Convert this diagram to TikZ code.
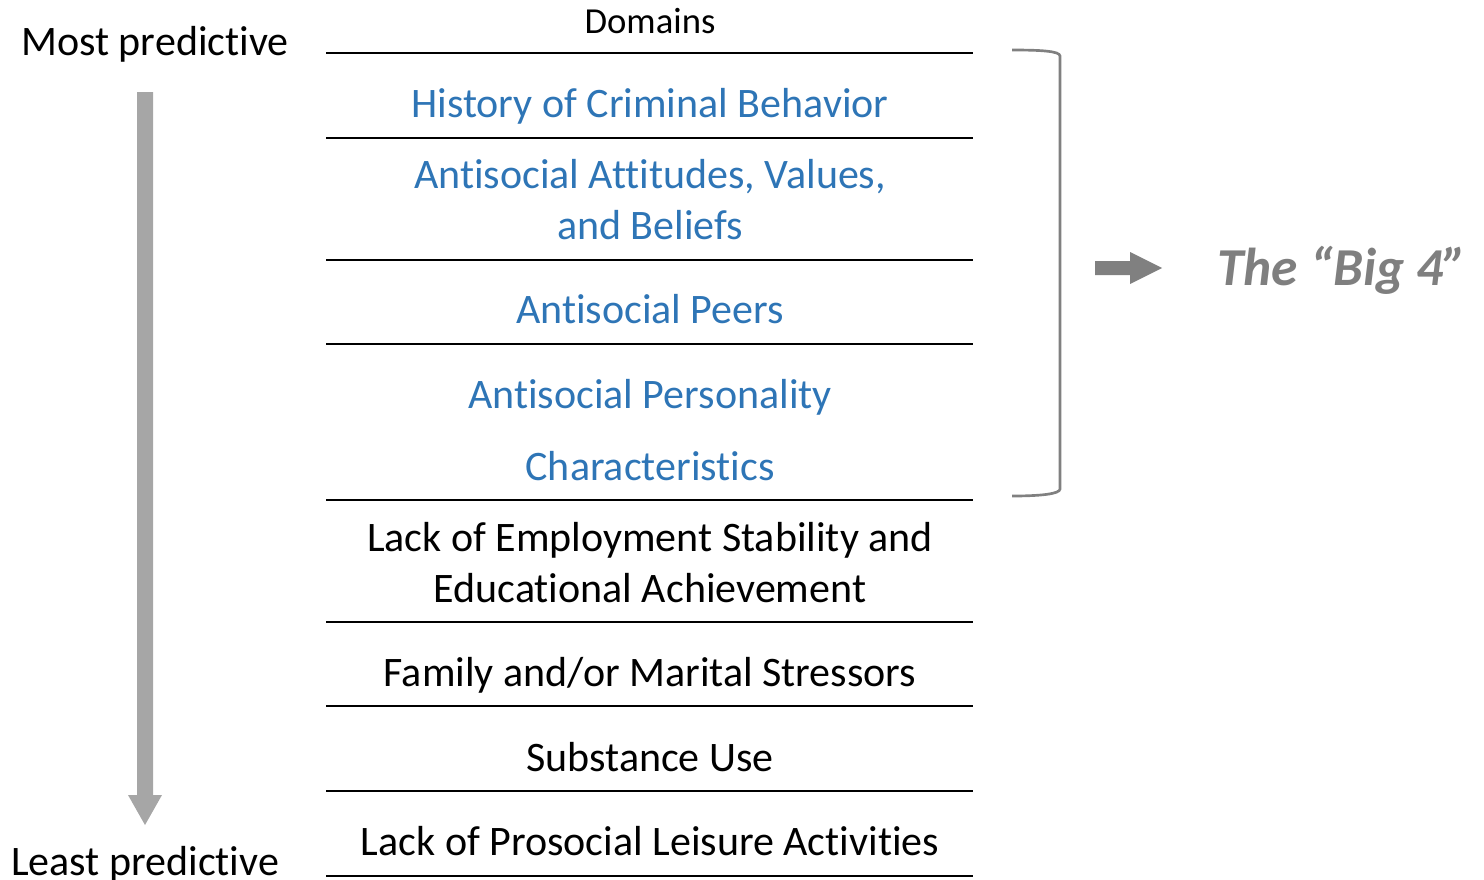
\documentclass[tikz,border=0pt]{standalone}
\usepackage{fontspec}
\setmainfont{Carlito}[Ligatures={NoCommon,NoContextual},RawFeature={-liga;-clig;-dlig}]
\definecolor{dblue}{HTML}{2E75B6}
\definecolor{txtgray}{HTML}{7F7F7F}
\definecolor{arrgray}{HTML}{808080}
\definecolor{lgray}{HTML}{A6A6A6}
\begin{document}
\begin{tikzpicture}[x=0.75pt,y=-0.75pt,
  rule/.style={line width=2.2pt, black},
  domtxt/.style={anchor=base, inner sep=0pt, font=\fontsize{31.5}{38}\selectfont},
  bluetxt/.style={domtxt, text=dblue},
  blacktxt/.style={domtxt, text=black},
  sidetxt/.style={anchor=base, inner sep=0pt, font=\fontsize{31.5}{38}\selectfont},
]
\useasboundingbox (0,0) rectangle (1484,879);
% header
\node[anchor=base, inner sep=0pt, font=\fontsize{27.5}{33}\selectfont] (dom) at (650,33) {Domains};
% rules
\foreach \yy in {53,138,260,344,500,622,706,791,876}
  \draw[rule] (326,\yy) -- (973,\yy);
% texts
\node[bluetxt] (hist) at (650,117) {History of Criminal Behavior};
\node[bluetxt] (att1) at (650,188) {Antisocial Attitudes, Values,};
\node[bluetxt] (att2) at (650,239) {and Beliefs};
\node[bluetxt] (peer) at (650,323) {Antisocial Peers};
\node[bluetxt] (pers1) at (650,408) {Antisocial Personality};
\node[bluetxt] (pers2) at (650,480) {Characteristics};
\node[blacktxt] (emp1) at (650,551) {Lack of Employment Stability and};
\node[blacktxt] (emp2) at (650,602) {Educational Achievement};
\node[blacktxt] (fam) at (650,686) {Family and/or Marital Stressors};
\node[blacktxt] (sub) at (650,771) {Substance Use};
\node[blacktxt] (leis) at (650,855) {Lack of Prosocial Leisure Activities};
% side labels
\node[sidetxt] (most) at (155,55) {Most predictive};
\node[sidetxt] (least) at (145,875) {Least predictive};
% vertical arrow
\fill[lgray] (137,92) -- (153,92) -- (153,795) -- (162,795) -- (145,825) -- (128,795) -- (137,795) -- cycle;
% bracket
\draw[arrgray, line width=2pt] (1012,50) .. controls (1040,50) and (1060,51) .. (1060,56)
  -- (1060,489) .. controls (1060,494) and (1040,496) .. (1012,496);
% right arrow
\fill[arrgray] (1095,261) -- (1130,261) -- (1130,252) -- (1162,268) -- (1130,284) -- (1130,275) -- (1095,275) -- cycle;
\node[anchor=base west, inner sep=0pt, text=txtgray, font=\fontsize{40}{48}\selectfont\bfseries\itshape] (big) at (1217,285) {The “Big 4”};
\end{tikzpicture}
\end{document}
